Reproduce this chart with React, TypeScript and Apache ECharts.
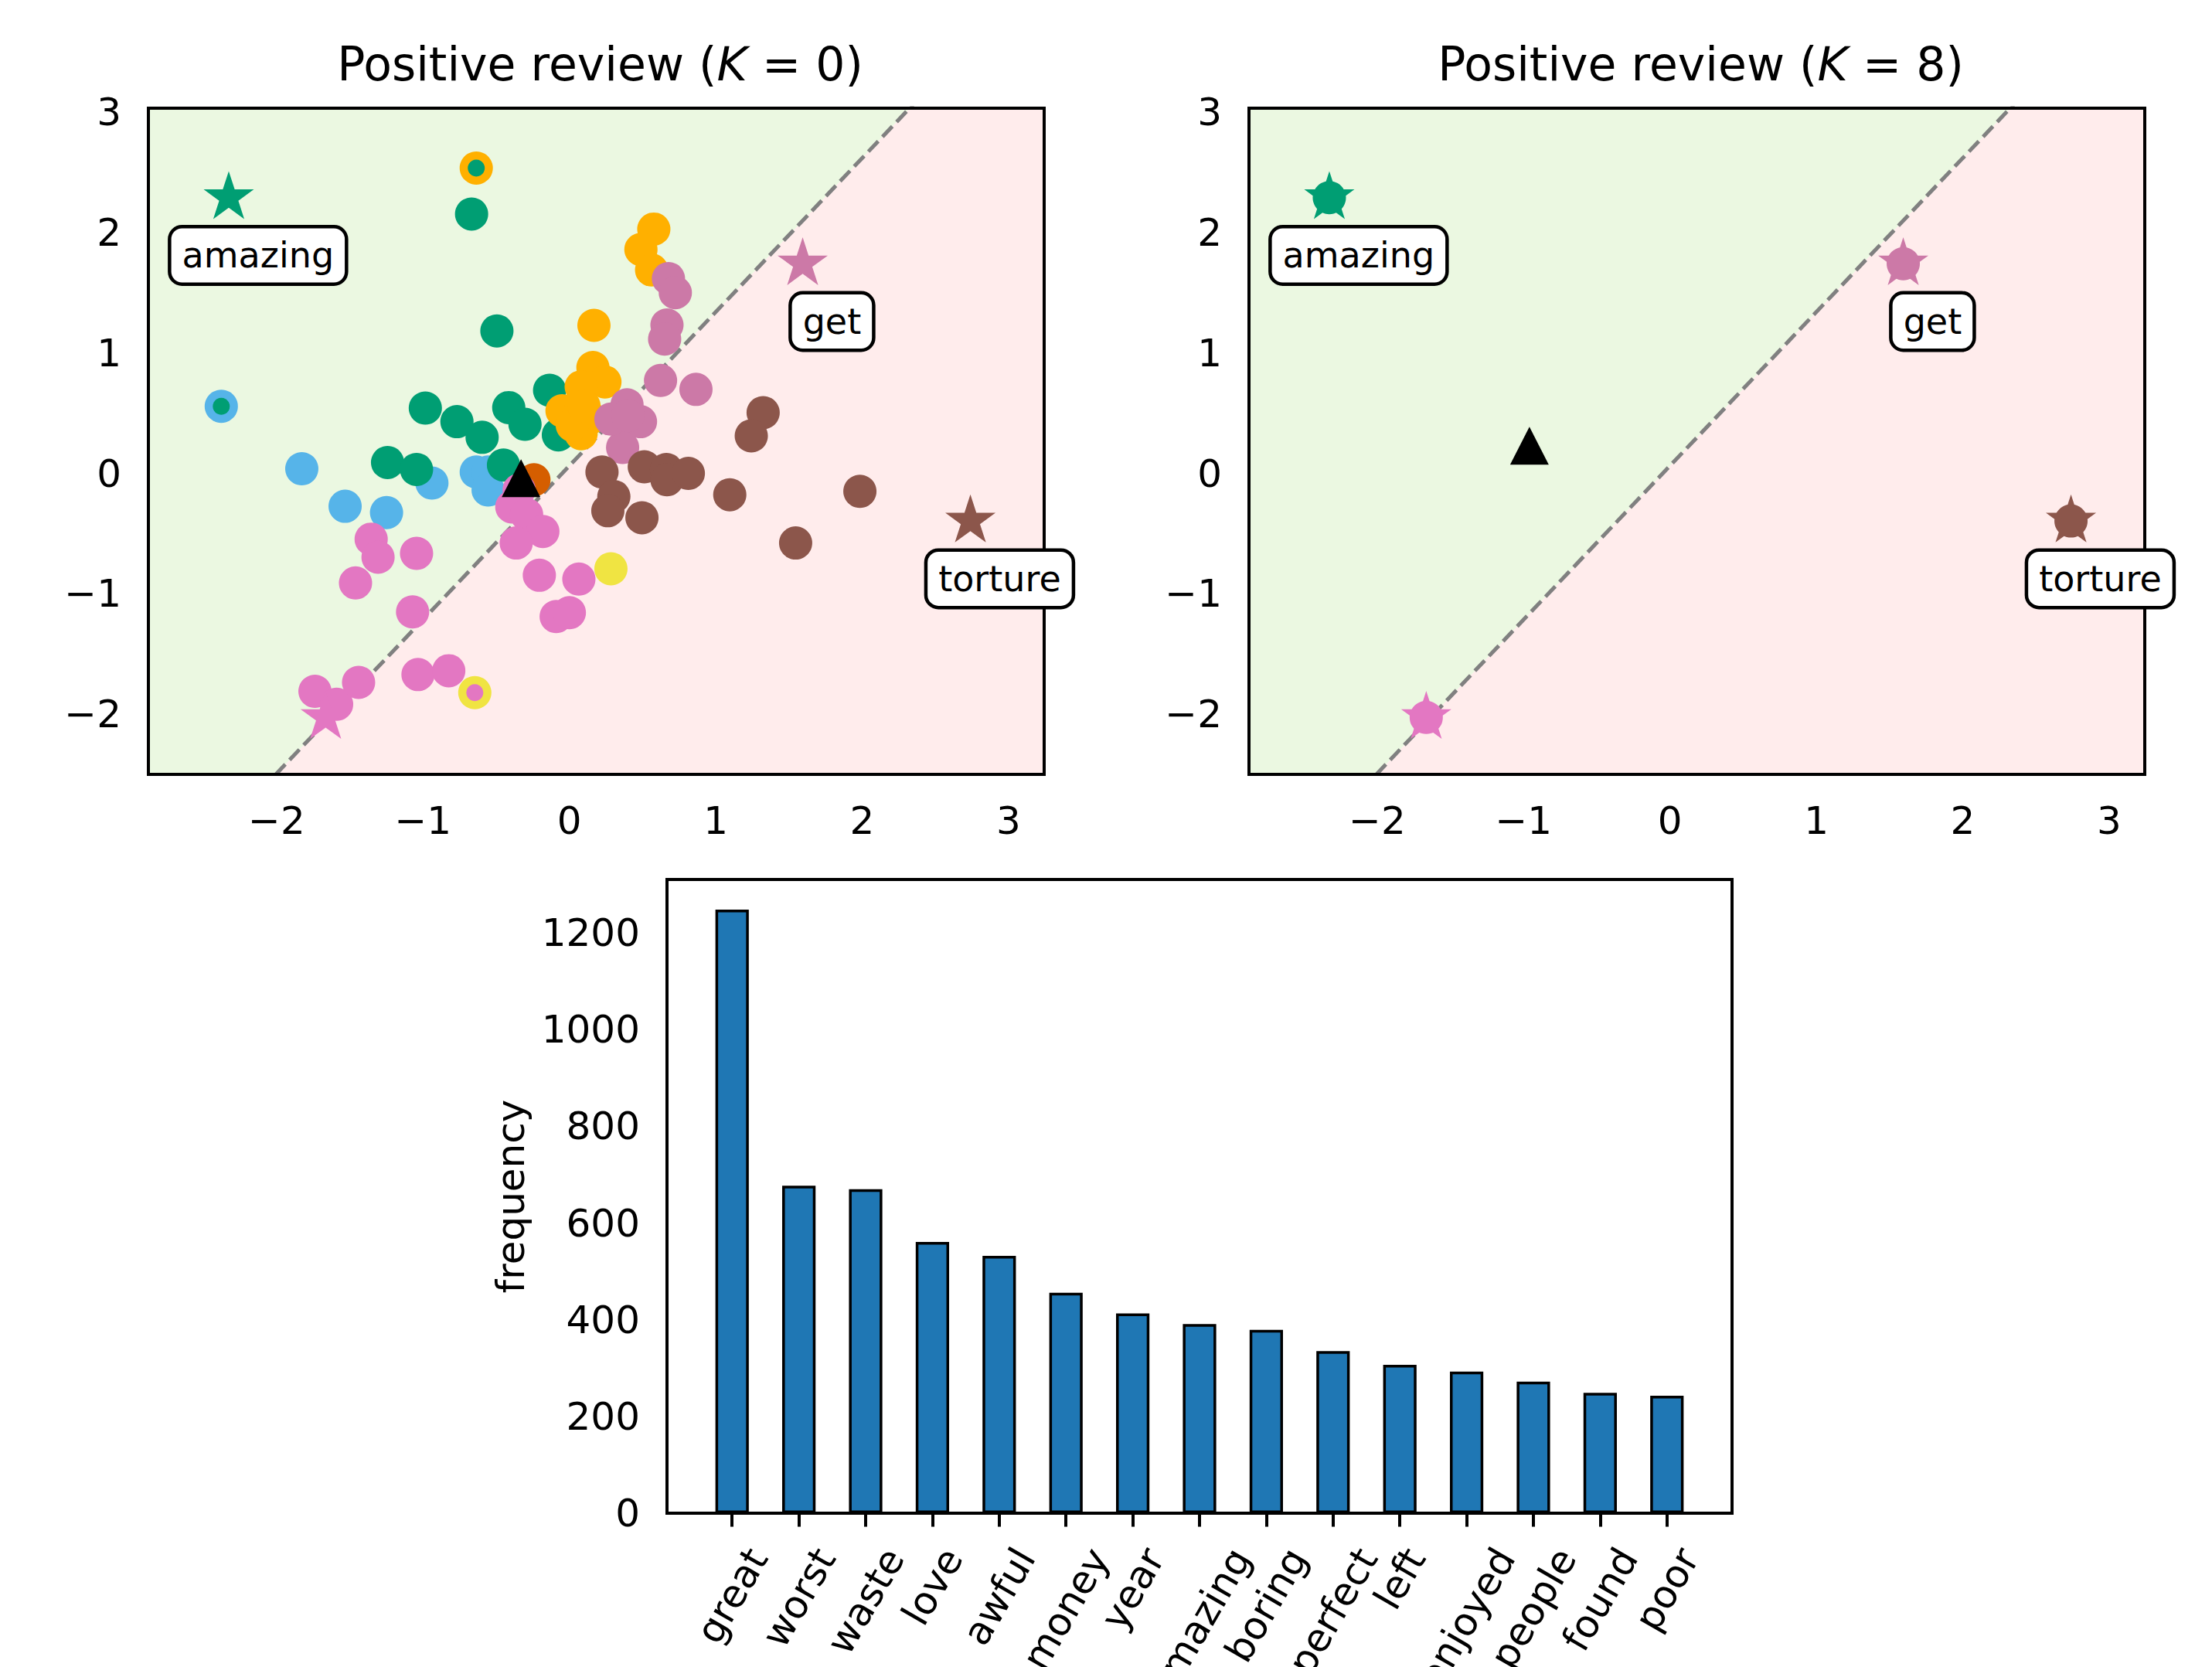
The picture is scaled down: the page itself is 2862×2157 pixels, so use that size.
import React, { useEffect, useRef } from 'react';
import * as echarts from 'echarts';

const FONT = 'DejaVu Sans';

// ---------- colours ----------
const C_GREEN = '#009E73';
const C_BLUE = '#56B4E9';
const C_ORANGE = '#FFB000';
const C_MAUVE = '#CC79A7';
const C_BROWN = '#8C564B';
const C_PINK = '#E377C2';
const C_YELLOW = '#F0E442';
const C_VERMILION = '#D55E00';
const FILL_POS = '#EBF8E1';
const FILL_NEG = '#FFECEC';

// ---------- scatter data (K = 0 panel) ----------
const greenPoints = [
  [-0.668, 2.155], [-0.495, 1.184], [-0.984, 0.543], [-0.768, 0.43], [-0.596, 0.3],
  [-0.414, 0.547], [-0.303, 0.408], [-0.135, 0.691], [-0.075, 0.32], [-1.242, 0.091],
  [-1.044, 0.033], [-0.45, 0.07],
];
const bluePoints = [
  [-1.828, 0.039], [-1.532, -0.273], [-1.249, -0.325], [-0.939, -0.08],
  [-0.636, 0.012], [-0.555, 0.012], [-0.555, -0.138],
];
const orangePoints = [
  [0.577, 2.03], [0.489, 1.86], [0.562, 1.69], [0.168, 1.23], [0.161, 0.88],
  [0.243, 0.76], [0.081, 0.72], [-0.05, 0.52], [0.06, 0.48], [0.142, 0.46],
  [0.08, 0.33], [0.02, 0.4], [0.1, 0.56],
];
const mauvePoints = [
  [0.677, 1.619], [0.724, 1.502], [0.667, 1.233], [0.651, 1.116], [0.623, 0.772],
  [0.865, 0.698], [0.394, 0.57], [0.486, 0.43], [0.364, 0.215], [0.284, 0.451], [0.4, 0.48],
];
const brownPoints = [
  [1.324, 0.505], [1.243, 0.312], [0.223, 0.012], [0.304, -0.192], [0.263, -0.31],
  [0.512, 0.055], [0.663, 0.033], [0.667, -0.053], [0.813, 0.0], [0.496, -0.368],
  [1.096, -0.177], [1.985, -0.149], [1.546, -0.578],
];
const pinkPoints = [
  [-0.343, -0.138], [-0.393, -0.278], [-0.292, -0.342], [-0.181, -0.482], [-0.363, -0.578],
  [-0.205, -0.846], [0.065, -0.878], [-0.09, -1.189], [0.0, -1.157], [-1.354, -0.546],
  [-1.307, -0.696], [-1.044, -0.664], [-1.461, -0.91], [-1.071, -1.15], [-1.738, -1.81],
  [-1.59, -1.918], [-1.44, -1.736], [-1.034, -1.671], [-0.824, -1.639],
];
const yellowPoints = [[0.284, -0.792]];
const vermilionPoints = [[-0.242, -0.053]];

// two-colour (ring) points
const ringPoints = [[-2.378, 0.558], [-0.636, 2.537], [-0.646, -1.821]];
const ringOuterColors = [C_BLUE, C_ORANGE, C_YELLOW];
const ringInnerColors = [C_GREEN, C_GREEN, C_PINK];

// anchor words (stars)
const anchorWords = ['amazing', 'get', 'time', 'torture'];
const anchorX = [-2.327, 1.594, -1.665, 2.74];
const anchorY = [2.291, 1.742, -2.027, -0.395];
const anchorColors = [C_GREEN, C_MAUVE, C_PINK, C_BROWN];

// query review (triangle)
const queryK0 = [-0.33, -0.04];
const queryK8 = [-0.96, 0.23];

// decision boundary y = slope * x + intercept
const boundarySlope = 1.278;
const boundaryIntercept = 0.063;

// axes ranges / ticks
const X_MIN = -2.876;
const X_MAX = 3.244;
const Y_MIN = -2.5;
const Y_MAX = 3.034;
const xTicks = [-2, -1, 0, 1, 2, 3];
const yTicks = [-2, -1, 0, 1, 2, 3];

// ---------- bar data ----------
const words = ['great', 'worst', 'waste', 'love', 'awful', 'money', 'year', 'amazing',
  'boring', 'perfect', 'left', 'enjoyed', 'people', 'found', 'poor'];
const frequencies = [1248, 677, 670, 561, 532, 456, 413, 391, 379, 335, 307, 293, 272, 249, 243];
const freqTicks = [0, 200, 400, 600, 800, 1000, 1200];

// ---------- layout ----------
const GRID_TL = { left: 192, top: 140, width: 1159, height: 862 };
const GRID_TR = { left: 1616, top: 140, width: 1159, height: 862 };
const GRID_B = { left: 863, top: 1138, width: 1378, height: 820 };
const LABEL_DX = 0.2;
const LABEL_DY = -0.48;
const TICK_LEN = 17.5;
const LABEL_MARGIN = 35;
const BAR_REL_WIDTH = 0.5;

const fmtNum = (v: number) => (v < 0 ? '\u2212' + Math.abs(v) : String(v));

function starPath() {
  const pts: string[] = [];
  for (let k = 0; k < 10; k++) {
    const a = (k * 36 * Math.PI) / 180;
    const r = k % 2 === 0 ? 100 : 38.1966;
    pts.push(`${(r * Math.sin(a)).toFixed(3)} ${(-r * Math.cos(a)).toFixed(3)}`);
  }
  return 'path://M' + pts.join(' L') + ' Z';
}
const STAR = starPath();

const tickStyle = { show: true, length: TICK_LEN, inside: false, lineStyle: { color: '#000', width: 4 } };
const labelStyle = { fontSize: 50, fontFamily: FONT, color: '#000', margin: LABEL_MARGIN };

function scatterXAxis(gi: number) {
  return {
    type: 'value', gridIndex: gi, min: X_MIN, max: X_MAX,
    axisLine: { show: false }, splitLine: { show: false },
    axisTick: { ...tickStyle, customValues: xTicks },
    axisLabel: { ...labelStyle, customValues: xTicks, formatter: fmtNum },
  };
}
function scatterYAxis(gi: number) {
  return {
    type: 'value', gridIndex: gi, min: Y_MIN, max: Y_MAX,
    axisLine: { show: false }, splitLine: { show: false },
    axisTick: { ...tickStyle, customValues: yTicks },
    axisLabel: { ...labelStyle, customValues: yTicks, formatter: fmtNum },
  };
}

function boundarySeries(gi: number) {
  const line = [X_MIN, X_MAX].map((x) => [x, boundarySlope * x + boundaryIntercept]);
  const base = {
    type: 'line', xAxisIndex: gi, yAxisIndex: gi, data: line, symbol: 'none',
    showSymbol: false, silent: true, clip: true, z: 1,
  };
  return [
    { ...base, lineStyle: { opacity: 0 }, areaStyle: { color: FILL_NEG, origin: 'start', opacity: 1 } },
    { ...base, lineStyle: { opacity: 0 }, areaStyle: { color: FILL_POS, origin: 'end', opacity: 1 } },
    { ...base, z: 1.5, lineStyle: { color: '#808080', width: 5, type: [18.5, 8] } },
  ];
}

function dots(gi: number, data: number[][], color: string, size = 43) {
  return {
    type: 'scatter', xAxisIndex: gi, yAxisIndex: gi, data, symbol: 'circle',
    symbolSize: size, itemStyle: { color, opacity: 1 }, silent: true, z: 2,
  };
}

function starSeries(gi: number) {
  return {
    type: 'scatter', xAxisIndex: gi, yAxisIndex: gi, symbol: STAR, symbolSize: [65, 62],
    symbolOffset: [0, -3.3], silent: true, z: 2,
    data: anchorWords.map((_, i) => ({ value: [anchorX[i], anchorY[i]], itemStyle: { color: anchorColors[i], opacity: 1 } })),
  };
}

function anchorDotSeries(gi: number) {
  return {
    type: 'scatter', xAxisIndex: gi, yAxisIndex: gi, symbol: 'circle', symbolSize: 43, silent: true, z: 2,
    data: anchorWords.map((_, i) => ({ value: [anchorX[i], anchorY[i]], itemStyle: { color: anchorColors[i], opacity: 1 } })),
  };
}

function triangleSeries(gi: number, q: number[]) {
  return {
    type: 'scatter', xAxisIndex: gi, yAxisIndex: gi, symbol: 'triangle', symbolSize: [50, 49],
    data: [q], itemStyle: { color: '#000', opacity: 1 }, silent: true, z: 2,
  };
}

function labelSeries(gi: number) {
  return {
    type: 'scatter', xAxisIndex: gi, yAxisIndex: gi, symbol: 'circle', symbolSize: 1,
    itemStyle: { color: '#fff', opacity: 1 }, silent: true, z: 5,
    data: anchorWords.map((w, i) => ({ name: w, value: [anchorX[i] + LABEL_DX, anchorY[i] + LABEL_DY] })),
    label: {
      show: true, position: 'inside', formatter: '{b}', fontSize: 46, fontFamily: FONT, color: '#000',
      opacity: 1, backgroundColor: '#fff', borderColor: '#000', borderWidth: 4.5, borderRadius: 14,
      padding: [8, 14], lineHeight: 54, textBorderWidth: 0,
    },
  };
}

function buildOption() {
  const n = words.length;
  const span = n - 1 + BAR_REL_WIDTH;
  const barMin = -BAR_REL_WIDTH / 2 - 0.05 * span;
  const barMax = n - 1 + BAR_REL_WIDTH / 2 + 0.05 * span;
  const barYMax = Math.max(...frequencies) * 1.05;
  const barPx = (BAR_REL_WIDTH * GRID_B.width) / (barMax - barMin);

  const gridCommon = { show: true, borderColor: '#000', borderWidth: 4, backgroundColor: 'transparent', z: 3, containLabel: false };

  const titleStyle = {
    fontSize: 60, fontFamily: FONT, fontWeight: 'normal', color: '#000', lineHeight: 70,
    rich: { i: { fontSize: 60, fontFamily: FONT, fontStyle: 'italic', color: '#000', lineHeight: 70 } },
  };

  return {
    animation: false,
    backgroundColor: '#fff',
    textStyle: { fontFamily: FONT },
    title: [
      { text: 'Positive review ({i|K} = 0)', left: GRID_TL.left + GRID_TL.width / 2, top: 43, textAlign: 'center', textStyle: titleStyle },
      { text: 'Positive review ({i|K} = 8)', left: GRID_TR.left + GRID_TR.width / 2, top: 43, textAlign: 'center', textStyle: titleStyle },
    ],
    grid: [
      { ...gridCommon, ...GRID_TL },
      { ...gridCommon, ...GRID_TR },
      { ...gridCommon, ...GRID_B },
    ],
    xAxis: [
      scatterXAxis(0),
      scatterXAxis(1),
      {
        type: 'value', gridIndex: 2, min: barMin, max: barMax,
        axisLine: { show: false }, splitLine: { show: false },
        axisTick: { ...tickStyle, customValues: words.map((_, i) => i) },
        axisLabel: { show: false },
      },
    ],
    yAxis: [
      scatterYAxis(0),
      scatterYAxis(1),
      {
        type: 'value', gridIndex: 2, min: 0, max: barYMax,
        axisLine: { show: false }, splitLine: { show: false },
        axisTick: { ...tickStyle, customValues: freqTicks },
        axisLabel: { ...labelStyle, customValues: freqTicks, formatter: fmtNum },
        name: 'frequency', nameLocation: 'middle', nameGap: 202, nameRotate: 90,
        nameTextStyle: { fontSize: 50, fontFamily: FONT, color: '#000', align: 'center', verticalAlign: 'middle' },
      },
    ],
    series: [
      // ---- K = 0 ----
      ...boundarySeries(0),
      dots(0, vermilionPoints, C_VERMILION),
      dots(0, bluePoints, C_BLUE),
      dots(0, greenPoints, C_GREEN),
      dots(0, orangePoints, C_ORANGE),
      dots(0, mauvePoints, C_MAUVE),
      dots(0, brownPoints, C_BROWN),
      dots(0, pinkPoints, C_PINK),
      dots(0, yellowPoints, C_YELLOW),
      {
        type: 'scatter', xAxisIndex: 0, yAxisIndex: 0, symbol: 'circle', symbolSize: 43, silent: true, z: 2,
        data: ringPoints.map((p, i) => ({ value: p, itemStyle: { color: ringOuterColors[i], opacity: 1 } })),
      },
      {
        type: 'scatter', xAxisIndex: 0, yAxisIndex: 0, symbol: 'circle', symbolSize: 22, silent: true, z: 2,
        data: ringPoints.map((p, i) => ({ value: p, itemStyle: { color: ringInnerColors[i], opacity: 1 } })),
      },
      starSeries(0),
      triangleSeries(0, queryK0),
      labelSeries(0),
      // ---- K = 8 ----
      ...boundarySeries(1),
      starSeries(1),
      anchorDotSeries(1),
      triangleSeries(1, queryK8),
      labelSeries(1),
      // ---- bars ----
      {
        type: 'bar', xAxisIndex: 2, yAxisIndex: 2, barWidth: barPx, silent: true, z: 2,
        data: words.map((_, i) => [i, frequencies[i]]),
        itemStyle: { color: '#1f77b4', borderColor: '#000', borderWidth: 3.5 },
      },
    ],
  };
}

export default function App() {
  const ref = useRef<HTMLDivElement>(null);
  useEffect(() => {
    if (!ref.current) return;
    const chart = echarts.init(ref.current, null, { renderer: 'svg' });
    chart.setOption(buildOption() as any);

    // rotated category labels, centred under their ticks (matplotlib style)
    const canvas = document.createElement('canvas');
    const ctx = canvas.getContext('2d');
    const fontSize = 50;
    const lineH = fontSize * 1.164;
    if (ctx) ctx.font = `${fontSize}px "${FONT}"`;
    const axisY = chart.convertToPixel({ yAxisIndex: 2 } as any, 0) as number;
    const ang = Math.PI / 3;
    const graphics = words.map((w, i) => {
      const tx = chart.convertToPixel({ xAxisIndex: 2 } as any, i) as number;
      const tw = ctx ? ctx.measureText(w).width : w.length * 30;
      const h = tw * Math.sin(ang) + lineH * Math.cos(ang);
      return {
        type: 'text', x: tx, y: axisY + LABEL_MARGIN + h / 2, rotation: ang, silent: true,
        style: { text: w, fontSize, fontFamily: FONT, fill: '#000', align: 'center', verticalAlign: 'middle' },
      };
    });
    chart.setOption({ graphic: graphics } as any);

    return () => chart.dispose();
  }, []);
  return (
    <div
      ref={ref}
      style={{ position: 'fixed', left: 0, top: 0, width: 2862, height: 2157, background: '#fff' }}
    />
  );
}
